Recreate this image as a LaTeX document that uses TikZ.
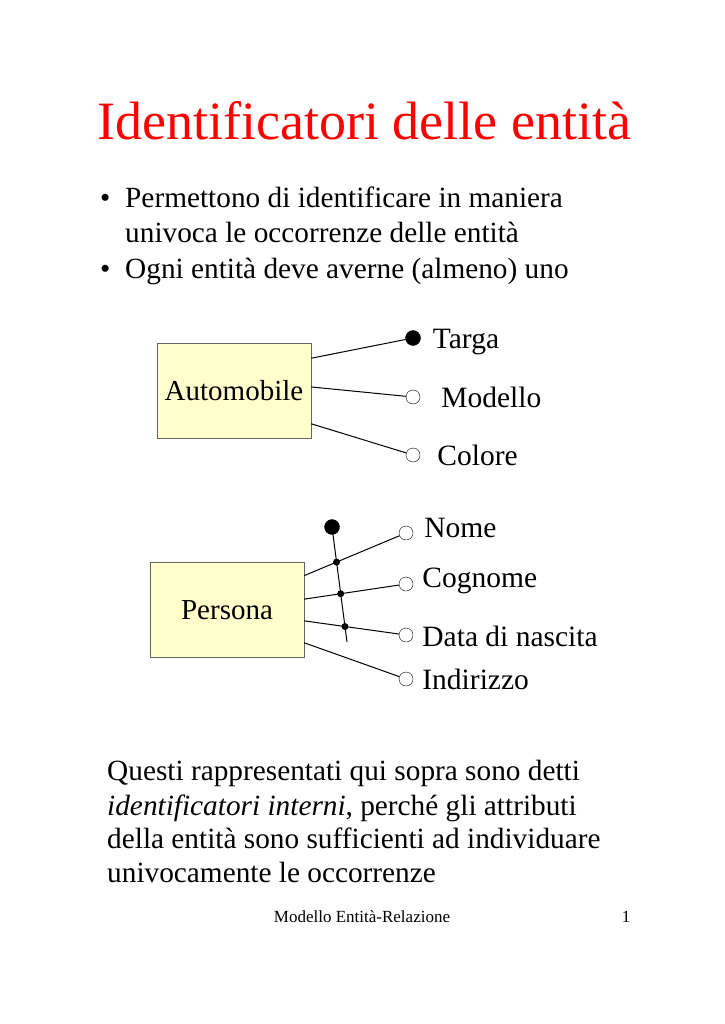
\documentclass[tikz,border=0pt]{standalone}
\usepackage{fontspec}
\setmainfont{Liberation Serif}
\usetikzlibrary{positioning,intersections}
\definecolor{entfill}{RGB}{255,255,204}
\tikzstyle{titletext} = [text=red, inner sep=0pt, font=\fontsize{54}{62}\selectfont]
\tikzstyle{bodytext} = [inner sep=0pt, font=\fontsize{29.3}{34}\selectfont]
\tikzstyle{entity} = [rectangle, draw=black!60, fill=entfill, minimum width=154pt,
    minimum height=95pt, font=\fontsize{29}{34}\selectfont]
\tikzstyle{attr} = [circle, draw, fill=white, inner sep=0pt, minimum size=14pt]
\tikzstyle{key} = [circle, draw, fill=black, inner sep=0pt, minimum size=15pt]
\tikzstyle{dot} = [circle, fill=black, inner sep=0pt, minimum size=7pt]
\tikzstyle{attrname} = [inner sep=0pt, text height=20pt, text depth=0pt,
    font=\fontsize{29.5}{34}\selectfont]
\tikzstyle{link} = [line width=1pt]
\begin{document}
\begin{tikzpicture}[x=1pt, y=-1pt]
    \useasboundingbox (0,0) rectangle (724,1024);
    % Title and bullets
    \node [titletext, anchor=base] (title) at (364,140) {Identificatori delle entità};
    \node [bodytext, anchor=base west] (bulla) at (100,208) {•};
    \node [bodytext, anchor=base west] (linea) at (125,208) {Permettono di identificare in maniera};
    \node [bodytext, anchor=base west] (lineb) at (125,243) {univoca le occorrenze delle entità};
    \node [bodytext, anchor=base west] (bullb) at (100,278) {•};
    \node [bodytext, anchor=base west] (linec) at (125,278) {Ogni entità deve averne (almeno) uno};
    % Place nodes
    \node [entity] (auto) at (234,391) {Automobile};
    \node [key] (targa) at (413,338) {};
    \node [attr] (modello) at (413,397) {};
    \node [attr] (colore) at (413,455) {};
    \node [attrname, right=12pt of targa] (ltarga) {Targa};
    \node [attrname, right=21pt of modello] (lmodello) {Modello};
    \node [attrname, right=17pt of colore] (lcolore) {Colore};
    \node [entity] (persona) at (227,610) {Persona};
    \node [key] (ident) at (332,527) {};
    \coordinate (identend) at (347,642);
    \node [attr] (nome) at (406,533) {};
    \node [attr] (cognome) at (406,584) {};
    \node [attr] (nascita) at (406,635) {};
    \node [attr] (indirizzo) at (406,679) {};
    \node [attrname, right=11pt of nome, yshift=6pt] (lnome) {Nome};
    \node [attrname, right=9pt of cognome, yshift=7pt] (lcognome) {Cognome};
    \node [attrname, right=9pt of nascita, yshift=-1pt] (lnascita) {Data di nascita};
    \node [attrname, right=9pt of indirizzo] (lindirizzo) {Indirizzo};
    % Draw edges
    \draw [link] (auto.23) -- (targa);
    \draw [link] (auto.3) -- (modello);
    \draw [link] (auto.-23) -- (colore);
    \draw [link, name path=pnome] (persona.24) -- (nome);
    \draw [link, name path=pcognome] (persona.8) -- (cognome);
    \draw [link, name path=pnascita] (persona.-8) -- (nascita);
    \draw [link] (persona.-23) -- (indirizzo);
    \draw [link, name path=idline] (ident) -- (identend);
    \path [name intersections={of=idline and pnome, by=xa}];
    \path [name intersections={of=idline and pcognome, by=xb}];
    \path [name intersections={of=idline and pnascita, by=xc}];
    \node [dot] (dota) at (xa) {};
    \node [dot] (dotb) at (xb) {};
    \node [dot] (dotc) at (xc) {};
    % Closing text
    \node [bodytext, anchor=base west] (para) at (107,780) {Questi rappresentati qui sopra sono detti};
    \node [bodytext, anchor=base west] (parb) at (107,815) {\emph{identificatori interni}, perché gli attributi};
    \node [bodytext, anchor=base west] (parc) at (107,848) {della entità sono sufficienti ad individuare};
    \node [bodytext, anchor=base west] (pard) at (107,882) {univocamente le occorrenze};
    \node [inner sep=0pt, anchor=base, font=\fontsize{17}{20}\selectfont] (footer) at (362,922) {Modello Entità-Relazione};
    \node [inner sep=0pt, anchor=base, font=\fontsize{17}{20}\selectfont] (page) at (626,922) {1};
\end{tikzpicture}
\end{document}
